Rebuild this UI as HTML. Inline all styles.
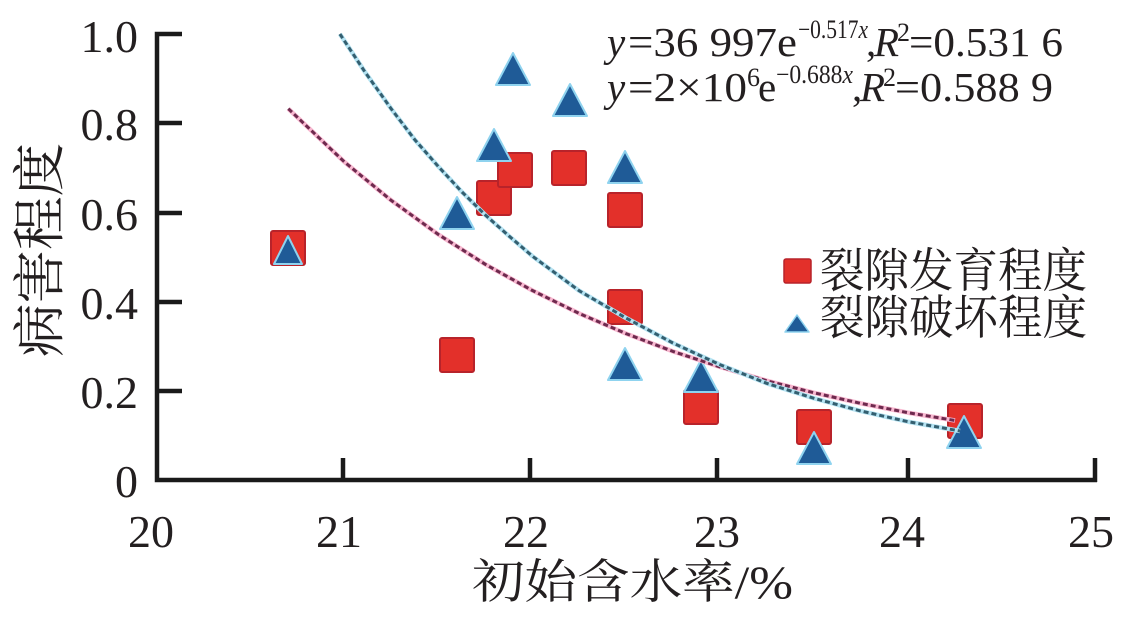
<!DOCTYPE html>
<html>
<head>
<meta charset="utf-8">
<style>
  html, body { margin: 0; padding: 0; background: #ffffff; }
  body { width: 1131px; height: 624px; overflow: hidden; }
  svg { display: block; }
  .tk { font-family: "Liberation Serif", serif; font-size: 46px; fill: #231f20; }
  .eq { font-family: "Liberation Serif", serif; font-size: 41px; fill: #231f20; }
  .sup { font-family: "Liberation Serif", serif; font-size: 26px; fill: #231f20; }
  .it { font-style: italic; }
  .cjk { font-family: "Liberation Serif", "Noto Serif CJK SC", "Noto Sans CJK SC", serif; fill: #231f20; }
</style>
</head>
<body>
<svg width="1131" height="624" viewBox="0 0 1131 624" xmlns="http://www.w3.org/2000/svg">
  <rect x="0" y="0" width="1131" height="624" fill="#ffffff"/>

  <!-- Axes -->
  <g stroke="#1a1a1a" stroke-width="4.5" fill="none" stroke-linecap="butt">
    <polyline points="182,34 157,34 157,480 1097,480"/>
    <line x1="157" y1="123" x2="182" y2="123"/>
    <line x1="157" y1="213" x2="182" y2="213"/>
    <line x1="157" y1="302" x2="182" y2="302"/>
    <line x1="157" y1="391" x2="182" y2="391"/>
    <line x1="343" y1="480" x2="343" y2="458"/>
    <line x1="530" y1="480" x2="530" y2="458"/>
    <line x1="717" y1="480" x2="717" y2="458"/>
    <line x1="908" y1="480" x2="908" y2="458"/>
    <line x1="1095" y1="482" x2="1095" y2="458"/>
  </g>

  <!-- Y tick labels -->
  <g class="tk" text-anchor="end">
    <text x="138" y="52">1.0</text>
    <text x="138" y="140">0.8</text>
    <text x="138" y="230">0.6</text>
    <text x="138" y="319">0.4</text>
    <text x="138" y="408">0.2</text>
    <text x="138" y="497">0</text>
  </g>
  <!-- X tick labels -->
  <g class="tk" text-anchor="middle">
    <text x="151" y="547">20</text>
    <text x="339" y="547">21</text>
    <text x="526" y="547">22</text>
    <text x="717" y="547">23</text>
    <text x="902" y="547">24</text>
    <text x="1091" y="547">25</text>
  </g>

  <!-- Axis titles -->
  <text class="cjk" x="472" y="598" font-size="47" textLength="321" lengthAdjust="spacingAndGlyphs">初始含水率/%</text>
  <g transform="translate(58,250) rotate(-90)">
    <text class="cjk" x="0" y="0" font-size="53" text-anchor="middle" textLength="214" lengthAdjust="spacingAndGlyphs">病害程度</text>
  </g>

  <!-- Squares -->
  <g fill="#e3302a" stroke="#b8232a" stroke-width="2">
    <rect x="271" y="231" width="34" height="34" rx="2"/>
    <rect x="440" y="338" width="34" height="34" rx="2"/>
    <rect x="477" y="181" width="34" height="34" rx="2"/>
    <rect x="498" y="153" width="34" height="34" rx="2"/>
    <rect x="552" y="151" width="34" height="34" rx="2"/>
    <rect x="608" y="193" width="34" height="34" rx="2"/>
    <rect x="608" y="290" width="34" height="34" rx="2"/>
    <rect x="684" y="390" width="34" height="34" rx="2"/>
    <rect x="797" y="410" width="34" height="34" rx="2"/>
    <rect x="948" y="404" width="34" height="34" rx="2"/>
  </g>

  <!-- Triangles -->
  <g fill="#1f5b97" stroke="#8fd3ef" stroke-width="2" stroke-linejoin="round">
    <polygon points="288,236 274,264 302,264"/>
    <polygon points="457,197 440,229 474,229"/>
    <polygon points="494,129 477,161 511,161"/>
    <polygon points="513,53 496,85 530,85"/>
    <polygon points="570,84 553,116 587,116"/>
    <polygon points="625,151 608,183 642,183"/>
    <polygon points="625,348 608,380 642,380"/>
    <polygon points="701,360 684,392 718,392"/>
    <polygon points="814,432 797,464 831,464"/>
    <polygon points="964,416 947,448 981,448"/>
  </g>

  <!-- Fitted curves -->
  <g fill="none" stroke-linecap="butt" stroke-linejoin="round">
    <polyline stroke="#f8b8d0" stroke-width="4.5" points="288.3,108.7 344.6,162.1 391.5,200.6 438.4,234.5 485.3,264.3 532.2,290.4 579.1,313.4 626,333.6 672.9,351.4 719.8,366.9 766.7,380.7 813.6,392.7 860.5,403.3 907.4,412.6 955,420.5"/>
    <polyline stroke="#6e2a4e" stroke-width="3" stroke-dasharray="5 3" points="288.3,108.7 344.6,162.1 391.5,200.6 438.4,234.5 485.3,264.3 532.2,290.4 579.1,313.4 626,333.6 672.9,351.4 719.8,366.9 766.7,380.7 813.6,392.7 860.5,403.3 907.4,412.6 955,420.5"/>
    <polyline stroke="#b5e3f2" stroke-width="4.5" points="339.9,34 365,72 391.5,109.2 415,140 438.4,166.6 462,192 485.3,215 509,236 532.2,256 579.1,290.7 626,318 672.9,343 719.8,364.6 766.7,383.3 813.6,398.2 860.5,410.9 907.4,421.6 960,431"/>
    <polyline stroke="#345f70" stroke-width="3" stroke-dasharray="5 3" points="339.9,34 365,72 391.5,109.2 415,140 438.4,166.6 462,192 485.3,215 509,236 532.2,256 579.1,290.7 626,318 672.9,343 719.8,364.6 766.7,383.3 813.6,398.2 860.5,410.9 907.4,421.6 960,431"/>
  </g>

  <!-- Legend -->
  <rect x="784" y="259" width="27" height="24" rx="2" fill="#e3302a" stroke="#b8232a" stroke-width="1.5"/>
  <polygon points="797,315 785,332 809,332" fill="#1f5b97" stroke="#8fd3ef" stroke-width="1.5" stroke-linejoin="round"/>
  <text class="cjk" x="820" y="287" font-size="47" textLength="267" lengthAdjust="spacingAndGlyphs">裂隙发育程度</text>
  <text class="cjk" x="820" y="334" font-size="47" textLength="267" lengthAdjust="spacingAndGlyphs">裂隙破坏程度</text>

  <!-- Equations line 1 -->
  <text class="eq it" x="607" y="56">y</text>
  <text class="eq" x="628" y="56" textLength="169" lengthAdjust="spacingAndGlyphs">=36 997e</text>
  <text class="sup" x="798" y="38" textLength="70" lengthAdjust="spacingAndGlyphs">−0.517<tspan class="it">x</tspan></text>
  <text class="eq" x="866" y="56">,</text>
  <text class="eq it" x="874" y="56">R</text>
  <text class="sup" x="897" y="41">2</text>
  <text class="eq" x="909" y="56" textLength="154" lengthAdjust="spacingAndGlyphs">=0.531 6</text>

  <!-- Equations line 2 -->
  <text class="eq it" x="607" y="101">y</text>
  <text class="eq" x="628" y="101" textLength="119" lengthAdjust="spacingAndGlyphs">=2×10</text>
  <text class="sup" x="747" y="86">6</text>
  <text class="eq" x="758" y="101">e</text>
  <text class="sup" x="776" y="83" textLength="77" lengthAdjust="spacingAndGlyphs">−0.688<tspan class="it">x</tspan></text>
  <text class="eq" x="852" y="101">,</text>
  <text class="eq it" x="860" y="101">R</text>
  <text class="sup" x="883" y="86">2</text>
  <text class="eq" x="895" y="101" textLength="158" lengthAdjust="spacingAndGlyphs">=0.588 9</text>
</svg>
</body>
</html>
